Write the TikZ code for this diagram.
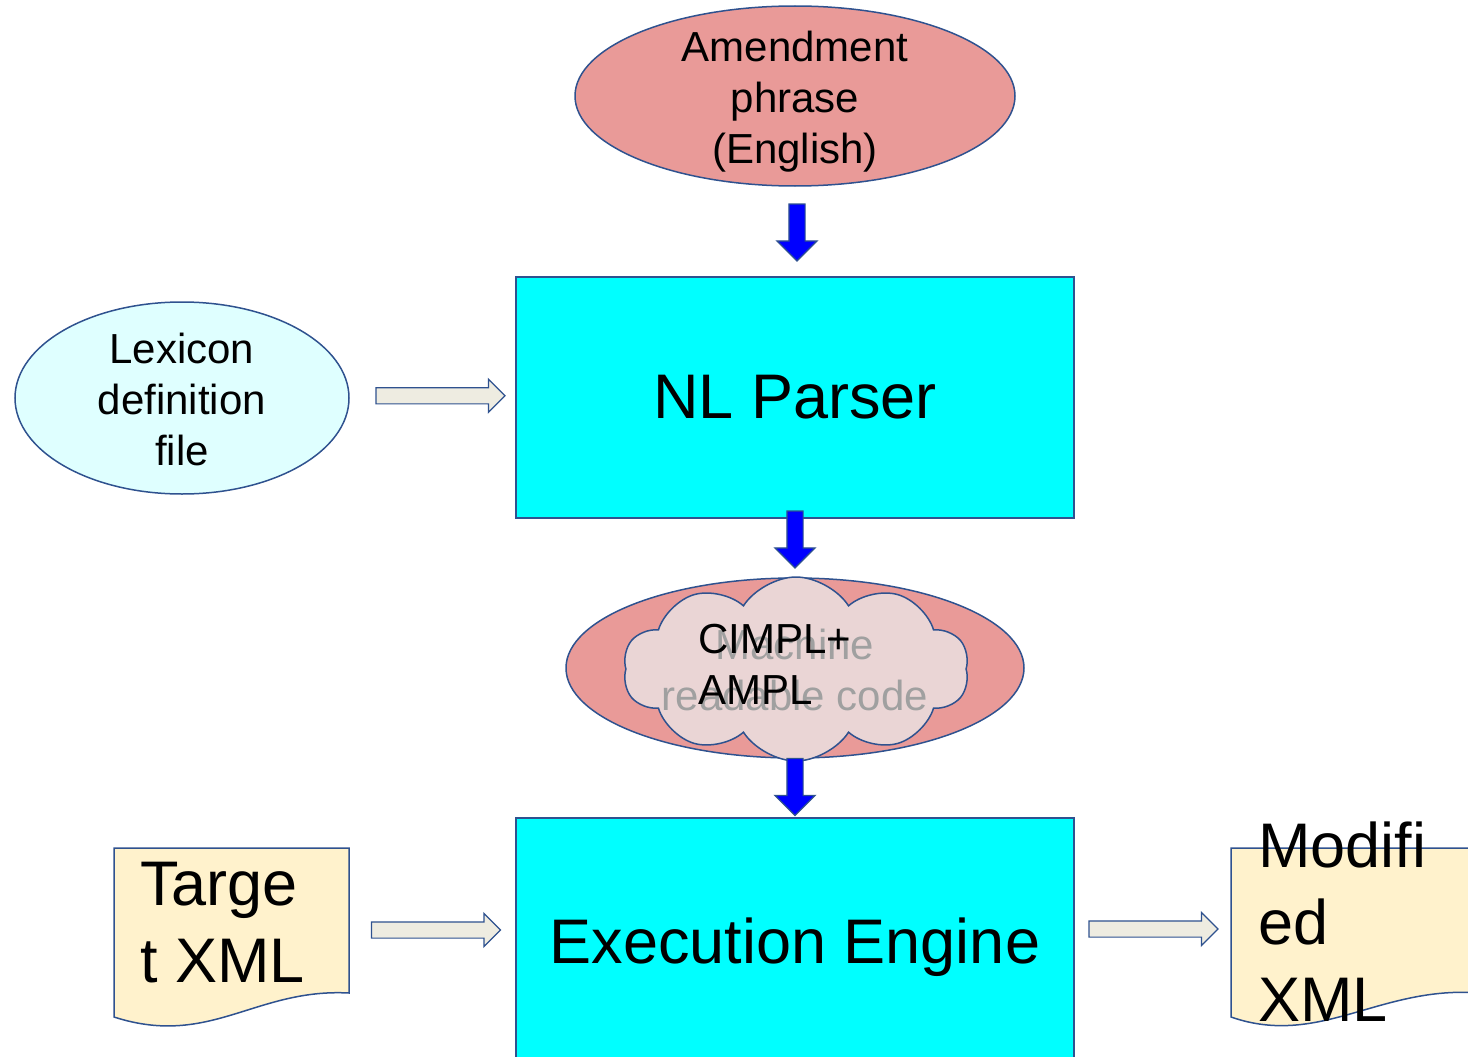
\documentclass[tikz,border=0pt]{standalone}
\usepackage{fontspec}
\setmainfont{Liberation Sans}
\usetikzlibrary{shapes.geometric,shapes.symbols,shapes.arrows,calc}

\definecolor{edgeblue}{RGB}{47,82,143}
\definecolor{salmon}{RGB}{233,154,152}
\definecolor{stagecyan}{RGB}{0,255,255}
\definecolor{palecyan}{RGB}{223,255,255}
\definecolor{docyellow}{RGB}{255,242,204}
\definecolor{shaftgray}{RGB}{238,236,225}
\definecolor{cloudpink}{RGB}{234,213,213}
\definecolor{flowblue}{RGB}{0,0,255}
\definecolor{ghost}{RGB}{160,160,160}

\tikzset{
	oval/.style={ellipse, draw=edgeblue, line width=1.5pt, inner sep=0pt},
	stage/.style={rectangle, draw=edgeblue, line width=1.5pt, fill=stagecyan, minimum width=558pt, minimum height=241pt, font=\fontsize{63}{76}\selectfont},
	midtext/.style={font=\fontsize{42}{51}\selectfont, align=center},
	bigtext/.style={font=\fontsize{63}{77}\selectfont, align=left, anchor=west, inner sep=0pt},
	downarrow/.style={single arrow, rotate=-90, draw=edgeblue, line width=1.2pt, fill=flowblue, minimum height=57pt, minimum width=39pt, inner xsep=0pt, inner ysep=7.5pt, single arrow head extend=12pt},
	sidearrow/.style={single arrow, draw=edgeblue, line width=1.2pt, fill=shaftgray, minimum height=129pt, minimum width=32pt, inner xsep=0pt, inner ysep=7.5pt, single arrow head extend=8.5pt},
	docshape/.style={draw=edgeblue, line width=1.5pt, fill=docyellow}
}

\begin{document}
\begin{tikzpicture}[x=1pt, y=-1pt]
\useasboundingbox (0,0) rectangle (1468,1057);
\clip (0,0) rectangle (1468,1057);

% inputs and stages
\node[oval, fill=salmon, minimum width=440pt, minimum height=180pt] (amend) at (795,96) {};
\node[midtext] (amendtext) at (795,102) {Amendment\\phrase\\(English)};
\node[oval, fill=palecyan, minimum width=334pt, minimum height=192pt] (lexicon) at (182,398) {};
\node[midtext] (lexicontext) at (182,399) {Lexicon\\definition\\file};
\node[stage] (parser) at (795,397.5) {NL Parser};
\node[stage, text height=49pt, text depth=0pt] (engine) at (795,938.5) {Execution Engine};

% intermediate code
\node[oval, fill=salmon, minimum width=458pt, minimum height=180pt] (code) at (795,668) {};
\node[cloud, cloud puffs=10, cloud puff arc=115, cloud ignores aspect, draw=edgeblue, line width=1.5pt, fill=cloudpink, minimum width=346pt, minimum height=184pt] (cloud) at (796,669) {};
\node[midtext, text=ghost] (ghosttext) at (795,670) {Machine\\readable code};
\node[midtext, align=left, anchor=west, inner sep=0pt] (cimpl) at (698,664) {CIMPL+\\AMPL};

% documents
\draw[docshape] (114,848) -- (349,848) -- (349,993) .. controls (255,988) and (210,1048) .. (114,1017) -- cycle;
\node[bigtext] (target) at (140,923) {Targe\\t XML};
\draw[docshape] (1231,848) -- (1480,848) -- (1480,993) .. controls (1380,985) and (1320,1048) .. (1231,1017) -- cycle;
\node[bigtext] (modified) at (1258,922) {Modifi\\ed\\XML};

% flow
\node[downarrow] (a1) at ($(amend.south)!0.5!(parser.north)+(2,-3)$) {};
\node[downarrow] (a2) at ($(parser.south)!0.5!(code.north)+(0,-12.5)$) {};
\node[downarrow] (a3) at ($(code.south)!0.5!(engine.north)+(0,-5)$) {};
\node[sidearrow] (lexarrow) at ($(lexicon.east)!0.5!(parser.west)+(4,-2)$) {};
\node[sidearrow] (targetarrow) at (432,930) {};
\node[sidearrow] (outarrow) at (1149.5,929) {};
\end{tikzpicture}
\end{document}
